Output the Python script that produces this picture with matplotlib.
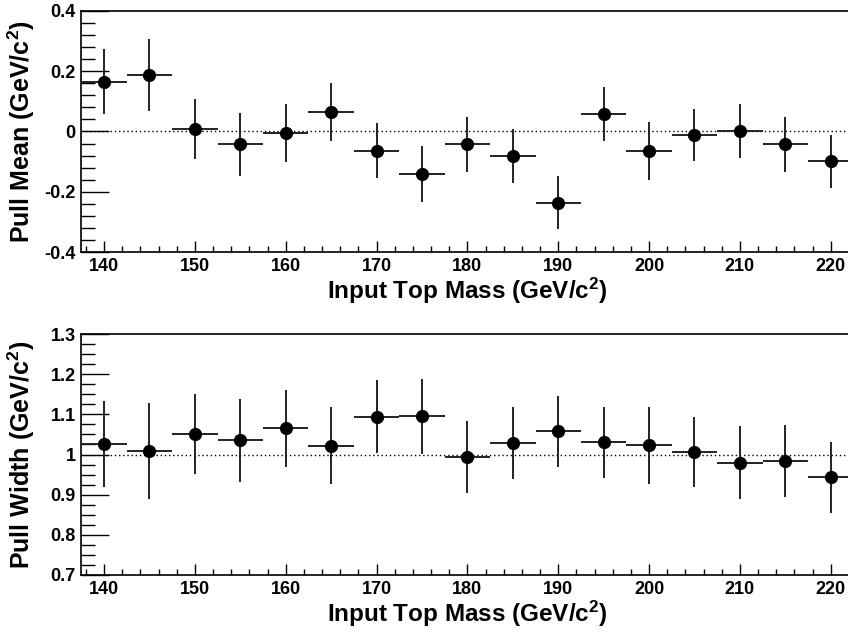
import numpy as np
import matplotlib
matplotlib.use('Agg')
import matplotlib.pyplot as plt
from matplotlib.ticker import MultipleLocator

plt.rcParams['font.family'] = ['Liberation Sans', 'DejaVu Sans']
plt.rcParams['mathtext.fontset'] = 'custom'
plt.rcParams['mathtext.rm'] = 'Liberation Sans:bold'
plt.rcParams['mathtext.it'] = 'Liberation Sans:bold'
plt.rcParams['mathtext.bf'] = 'Liberation Sans:bold'

# input masses (GeV/c^2)
mass = [140, 145, 150, 155, 160, 165, 170, 175, 180, 185, 190, 195, 200, 205, 210, 215, 220]
# pull mean
pull_mean = [0.165, 0.186, 0.008, -0.043, -0.005, 0.063, -0.063, -0.142, -0.043, -0.082,
             -0.236, 0.058, -0.064, -0.011, 0.002, -0.043, -0.098]
# pull width
pull_width = [1.025, 1.009, 1.051, 1.035, 1.065, 1.022, 1.094, 1.095, 0.993, 1.028,
              1.058, 1.030, 1.023, 1.007, 0.980, 0.983, 0.943]
# errors (same for both panels)
err = [0.107, 0.119, 0.100, 0.103, 0.096, 0.096, 0.091, 0.093, 0.090, 0.090,
       0.088, 0.089, 0.096, 0.087, 0.090, 0.090, 0.088]
xerr = 2.5

fig = plt.figure(figsize=(8.48, 6.32), dpi=100)
ax1 = fig.add_axes([0.0959, 0.6008, 0.9105, 0.3823])
ax2 = fig.add_axes([0.0959, 0.0902, 0.9105, 0.3813])

xlab = r'Input Top Mass (GeV/c$^{2}$)'
panels = [
    (ax1, pull_mean, 0.0, (-0.4, 0.4), 0.2, 0.04, r'Pull Mean (GeV/c$^{2}$)'),
    (ax2, pull_width, 1.0, (0.7, 1.3), 0.1, 0.025, r'Pull Width (GeV/c$^{2}$)'),
]

for ax, vals, ref, ylim, ymaj, ymin, ylab in panels:
    ax.axhline(ref, color='black', lw=1.0, ls=(0, (1, 2)), zorder=1)
    ax.errorbar(mass, vals, yerr=err, xerr=xerr, fmt='o', color='black',
                ecolor='#222222', elinewidth=1.4, markersize=8.5, capsize=0, zorder=3)
    ax.set_xlim(137.5, 222.5)
    ax.set_ylim(*ylim)
    ax.xaxis.set_major_locator(MultipleLocator(10))
    ax.xaxis.set_minor_locator(MultipleLocator(2))
    ax.yaxis.set_major_locator(MultipleLocator(ymaj))
    ax.yaxis.set_minor_locator(MultipleLocator(ymin))
    ax.tick_params(axis='x', which='major', direction='in', length=8, width=1, pad=4,
                   labelsize=13, top=False)
    ax.tick_params(axis='x', which='minor', direction='in', length=4, width=1, top=False)
    ax.tick_params(axis='y', which='major', direction='in', length=20, width=1, pad=4,
                   labelsize=13, right=False)
    ax.tick_params(axis='y', which='minor', direction='in', length=10, width=1, right=False)
    for lbl in ax.get_xticklabels() + ax.get_yticklabels():
        lbl.set_fontweight('bold')
    ax.yaxis.set_major_formatter(plt.FuncFormatter(lambda v, p: ('%g' % round(v, 3))))
    for s in ax.spines.values():
        s.set_linewidth(1.2)
    ax.set_ylabel(ylab, fontsize=18, fontweight='bold')
    ax.yaxis.set_label_coords(-0.057, 0.5)
    ax.set_xlabel(xlab, fontsize=17.5, fontweight='bold')
    ax.xaxis.set_label_coords(0.5, -0.097)

fig.savefig('out.png', dpi=100)
